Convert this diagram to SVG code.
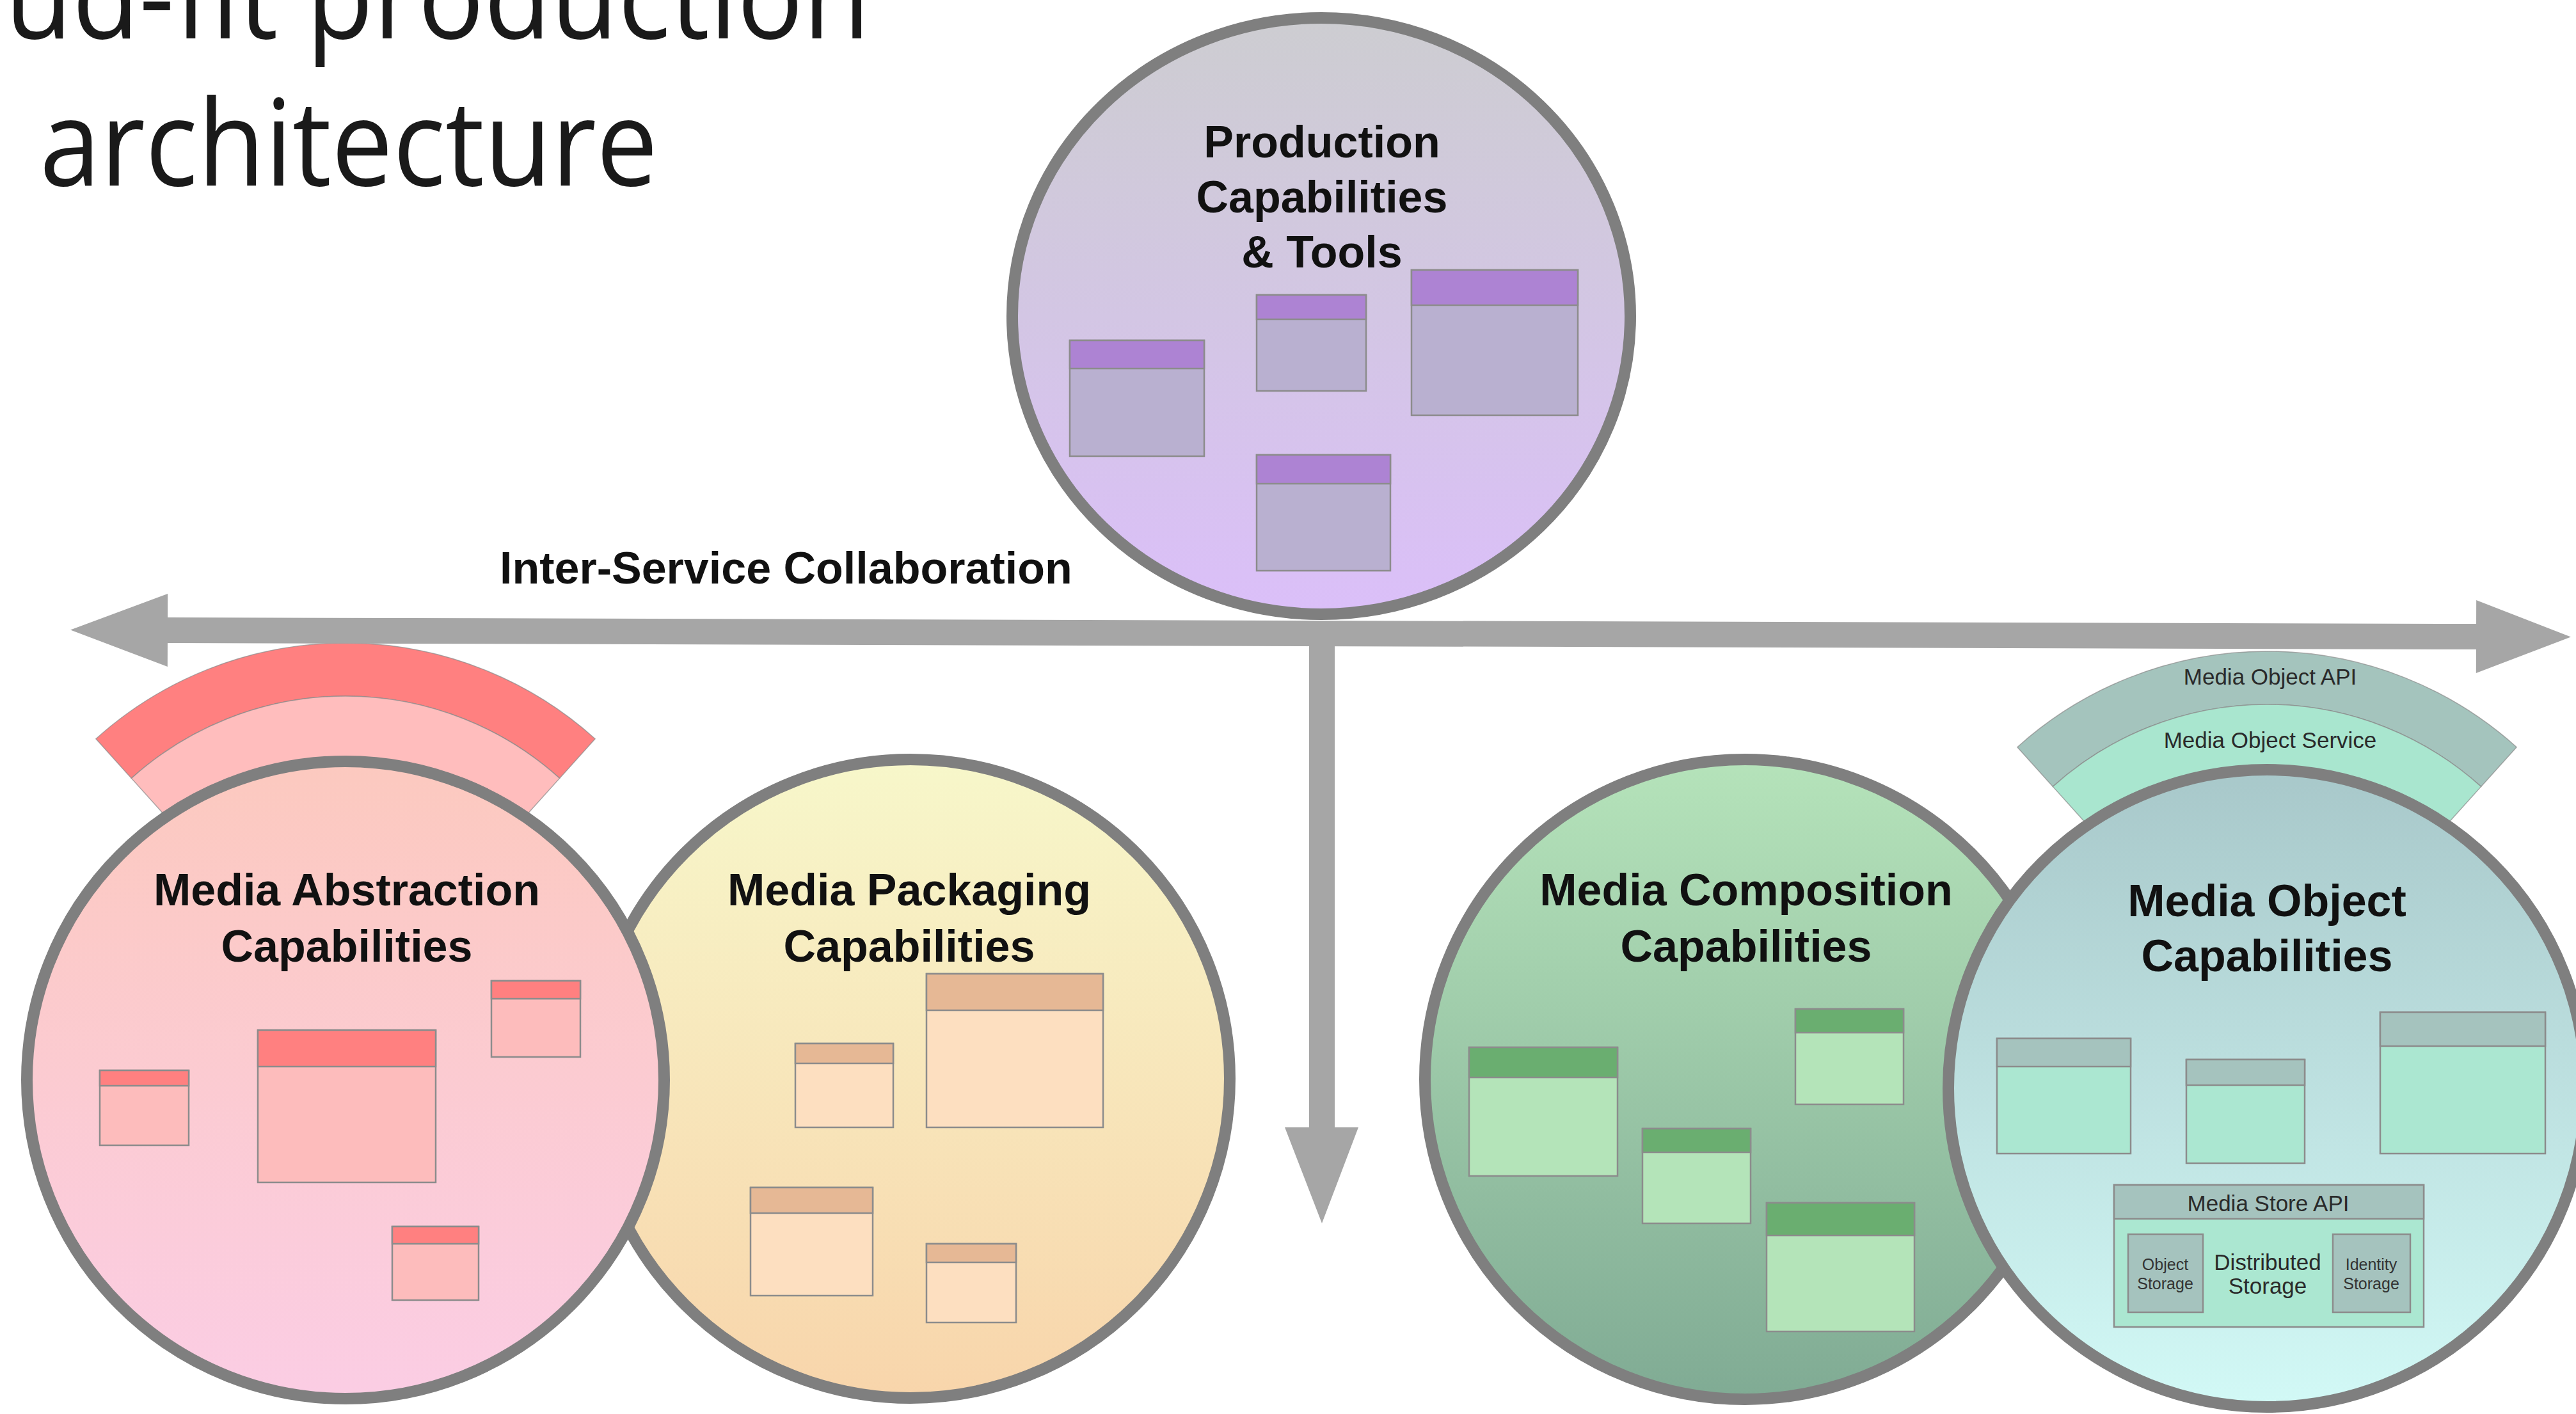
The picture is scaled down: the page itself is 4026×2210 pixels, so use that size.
<svg xmlns="http://www.w3.org/2000/svg" width="4026" height="2210" viewBox="0 0 4026 2210">
  <defs>
    <style>
      .ring { stroke: #7f7f7f; stroke-width: 18; }
      .b { stroke: #8c8c8c; stroke-width: 2.5; }
      .band { stroke: #8a8a8a; stroke-width: 1.5; stroke-opacity: 0.7; }
      .head { font-family: "Open Sans", "Liberation Sans", sans-serif; font-size: 187px; fill: #1a1a1a; }
      .title { font-family: "Liberation Sans", Arial, sans-serif; font-weight: bold; font-size: 70px; fill: #111; text-anchor: middle; }
      .lbl { font-family: "Liberation Sans", Arial, sans-serif; font-size: 35px; fill: #2a2a2a; text-anchor: middle; }
      .tiny { font-family: "Liberation Sans", Arial, sans-serif; font-size: 25px; fill: #333; text-anchor: middle; }
      .arrow { fill: #a6a6a6; }
      .p-body { fill: #b9b0d0; } .p-head { fill: #ad83d3; }
      .r-body { fill: #fdbcbc; } .r-head { fill: #ff8080; }
      .y-body { fill: #fddfc0; } .y-head { fill: #e6b895; }
      .g-body { fill: #b4e4b9; } .g-head { fill: #6aae70; }
      .t-body { fill: #abe7d1; } .t-head { fill: #a5c3be; }
    </style>
    <linearGradient id="fill-production" x1="0" y1="0" x2="0" y2="1">
      <stop offset="0" stop-color="#cdcdd1"/>
      <stop offset="0.5" stop-color="#d3c6e4"/>
      <stop offset="1" stop-color="#dbbff9"/>
    </linearGradient>
    <linearGradient id="fill-abstraction" x1="0" y1="0" x2="0" y2="1">
      <stop offset="0" stop-color="#fcc9bf"/>
      <stop offset="1" stop-color="#fbcde4"/>
    </linearGradient>
    <linearGradient id="fill-packaging" x1="0" y1="0" x2="0" y2="1">
      <stop offset="0" stop-color="#f7f7ca"/>
      <stop offset="1" stop-color="#f8d5ab"/>
    </linearGradient>
    <linearGradient id="fill-composition" x1="0" y1="0" x2="0" y2="1">
      <stop offset="0" stop-color="#b5e3ba"/>
      <stop offset="1" stop-color="#80ab94"/>
    </linearGradient>
    <linearGradient id="fill-object" x1="0" y1="0" x2="0" y2="1">
      <stop offset="0" stop-color="#a8c8ca"/>
      <stop offset="1" stop-color="#d2f9f6"/>
    </linearGradient>
    <!-- annular sectors sitting on top of a capability circle, origin at the arc centre -->
    <path id="arc-outer" d="M -390.1 -433.3 A 583 583 0 0 1 390.1 -433.3 L 334.6 -371.6 A 500 500 0 0 0 -334.6 -371.6 Z"/>
    <path id="arc-inner" d="M -334.6 -371.6 A 500 500 0 0 1 334.6 -371.6 L 267.7 -297.3 A 400 400 0 0 0 -267.7 -297.3 Z"/>
  </defs>

  <rect width="4026" height="2210" fill="#ffffff"/>

  <!-- slide heading -->
  <g id="heading">
    <text class="head" x="8" y="60" textLength="1352" lengthAdjust="spacingAndGlyphs">ud-fit production</text>
    <text class="head" x="62" y="290" textLength="966" lengthAdjust="spacingAndGlyphs">architecture</text>
  </g>

  <!-- Production Capabilities & Tools -->
  <g id="production-capabilities">
    <ellipse cx="2065" cy="494" rx="483" ry="466" fill="url(#fill-production)" class="ring"/>
    <text class="title" x="2066" y="246">Production</text>
    <text class="title" x="2066" y="332">Capabilities</text>
    <text class="title" x="2066" y="418">&amp; Tools</text>
    <rect class="b p-body" x="1672" y="532" width="210" height="181"/>
    <rect class="b p-head" x="1672" y="532" width="210" height="44"/>
    <rect class="b p-body" x="1964" y="461" width="171" height="150"/>
    <rect class="b p-head" x="1964" y="461" width="171" height="38"/>
    <rect class="b p-body" x="2206" y="422" width="260" height="227"/>
    <rect class="b p-head" x="2206" y="422" width="260" height="55"/>
    <rect class="b p-body" x="1964" y="711" width="209" height="181"/>
    <rect class="b p-head" x="1964" y="711" width="209" height="45"/>
  </g>

  <!-- Media Packaging Capabilities -->
  <g id="media-packaging-capabilities">
    <circle cx="1423" cy="1686" r="499" fill="url(#fill-packaging)" class="ring"/>
    <text class="title" x="1421" y="1415">Media Packaging</text>
    <text class="title" x="1421" y="1503">Capabilities</text>
    <rect class="b y-body" x="1243" y="1631" width="153" height="131"/>
    <rect class="b y-head" x="1243" y="1631" width="153" height="31"/>
    <rect class="b y-body" x="1448" y="1522" width="276" height="240"/>
    <rect class="b y-head" x="1448" y="1522" width="276" height="57"/>
    <rect class="b y-body" x="1173" y="1856" width="191" height="169"/>
    <rect class="b y-head" x="1173" y="1856" width="191" height="40"/>
    <rect class="b y-body" x="1448" y="1944" width="140" height="123"/>
    <rect class="b y-head" x="1448" y="1944" width="140" height="29"/>
  </g>

  <!-- Media Abstraction Capabilities -->
  <g id="media-abstraction-capabilities">
    <g transform="translate(540 1588)">
      <use href="#arc-outer" fill="#ff8080" class="band"/>
      <use href="#arc-inner" fill="#ffbdbd" class="band"/>
    </g>
    <circle cx="540" cy="1688" r="498" fill="url(#fill-abstraction)" class="ring"/>
    <text class="title" x="542" y="1415">Media Abstraction</text>
    <text class="title" x="542" y="1503">Capabilities</text>
    <rect class="b r-body" x="156" y="1673" width="139" height="117"/>
    <rect class="b r-head" x="156" y="1673" width="139" height="24"/>
    <rect class="b r-body" x="403" y="1610" width="278" height="238"/>
    <rect class="b r-head" x="403" y="1610" width="278" height="57"/>
    <rect class="b r-body" x="768" y="1533" width="139" height="119"/>
    <rect class="b r-head" x="768" y="1533" width="139" height="28"/>
    <rect class="b r-body" x="613" y="1917" width="135" height="115"/>
    <rect class="b r-head" x="613" y="1917" width="135" height="27"/>
  </g>

  <!-- Media Composition Capabilities -->
  <g id="media-composition-capabilities">
    <circle cx="2727" cy="1687" r="500" fill="url(#fill-composition)" class="ring"/>
    <text class="title" x="2729" y="1415">Media Composition</text>
    <text class="title" x="2729" y="1503">Capabilities</text>
    <rect class="b g-body" x="2296" y="1637" width="232" height="201"/>
    <rect class="b g-head" x="2296" y="1637" width="232" height="47"/>
    <rect class="b g-body" x="2806" y="1577" width="169" height="149"/>
    <rect class="b g-head" x="2806" y="1577" width="169" height="37"/>
    <rect class="b g-body" x="2567" y="1764" width="169" height="148"/>
    <rect class="b g-head" x="2567" y="1764" width="169" height="37"/>
    <rect class="b g-body" x="2761" y="1880" width="231" height="201"/>
    <rect class="b g-head" x="2761" y="1880" width="231" height="51"/>
  </g>

  <!-- Media Object Capabilities -->
  <g id="media-object-capabilities">
    <g transform="translate(3543 1601)">
      <use href="#arc-outer" fill="#a4c4bd" class="band"/>
      <use href="#arc-inner" fill="#a9e6cf" class="band"/>
    </g>
    <text class="lbl" x="3548" y="1070">Media Object API</text>
    <text class="lbl" x="3548" y="1169">Media Object Service</text>
    <circle cx="3543" cy="1701" r="498" fill="url(#fill-object)" class="ring"/>
    <text class="title" x="3543" y="1432">Media Object</text>
    <text class="title" x="3543" y="1518">Capabilities</text>
    <rect class="b t-body" x="3121" y="1623" width="209" height="180"/>
    <rect class="b t-head" x="3121" y="1623" width="209" height="44"/>
    <rect class="b t-body" x="3417" y="1656" width="185" height="162"/>
    <rect class="b t-head" x="3417" y="1656" width="185" height="40"/>
    <rect class="b t-body" x="3720" y="1582" width="258" height="221"/>
    <rect class="b t-head" x="3720" y="1582" width="258" height="53"/>
    <g id="media-store">
      <rect class="b t-body" x="3304" y="1852" width="484" height="222"/>
      <rect class="b t-head" x="3304" y="1852" width="484" height="53"/>
      <text class="lbl" x="3545" y="1893">Media Store API</text>
      <rect class="b t-head" x="3326" y="1929" width="117" height="122"/>
      <text class="tiny" x="3384" y="1985">Object</text>
      <text class="tiny" x="3384" y="2015">Storage</text>
      <text class="lbl" x="3544" y="1985">Distributed</text>
      <text class="lbl" x="3544" y="2022">Storage</text>
      <rect class="b t-head" x="3646" y="1929" width="121" height="122"/>
      <text class="tiny" x="3706" y="1985">Identity</text>
      <text class="tiny" x="3706" y="2015">Storage</text>
    </g>
  </g>

  <!-- collaboration axis and downward flow -->
  <g id="connectors">
    <polygon class="arrow" transform="rotate(0.16 2064 990)" points="110,990 262,933 262,970 3870,970 3870,933 4018,990 3870,1047 3870,1010 262,1010 262,1047"/>
    <polygon class="arrow" points="2046,995 2086,995 2086,1762 2123,1762 2066,1912 2008,1762 2046,1762"/>
    <text x="781" y="912" font-family="Liberation Sans, Arial, sans-serif" font-weight="bold" font-size="70" fill="#111">Inter-Service Collaboration</text>
  </g>
</svg>
